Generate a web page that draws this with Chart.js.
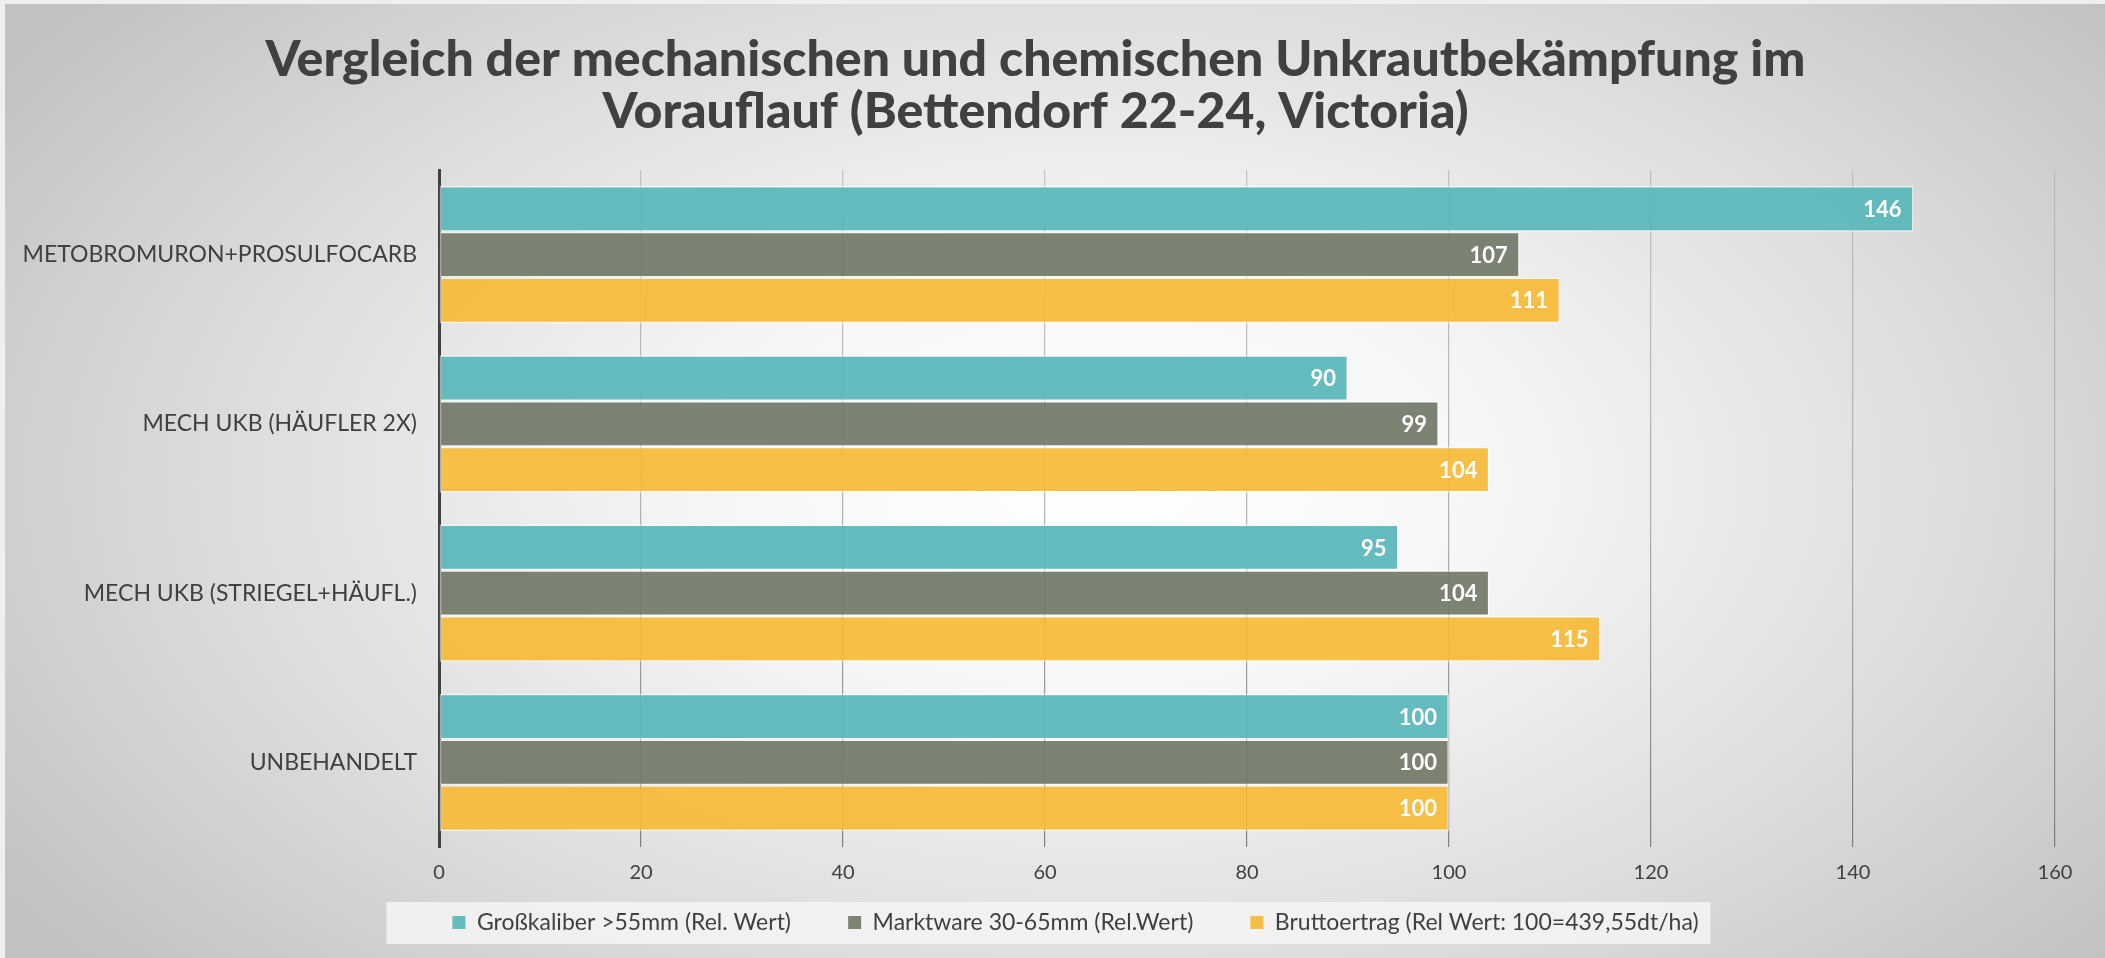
<!DOCTYPE html>
<html>
<head>
<meta charset="utf-8">
<script src="https://cdn.jsdelivr.net/npm/chart.js@4.4.1/dist/chart.umd.min.js"></script>
<style>
  html, body { margin: 0; padding: 0; }
  body {
    width: 2105px; height: 958px; overflow: hidden;
    background: #efefed;
  }
  #wrap {
    position: absolute; left: 5px; top: 4px; width: 2100px; height: 954px;
    background: radial-gradient(ellipse 62% 78% at 52% 50%, #ffffff 0%, #f6f6f6 30%, #dadada 70%, #c2c2c2 100%);
  }
  #c { position: absolute; left: 0; top: 0; }
</style>
</head>
<body>
<div id="wrap"></div>
<canvas id="c" width="2105" height="958"></canvas>
<script>
const titleLines = ["Vergleich der mechanischen und chemischen Unkrautbekämpfung im", "Vorauflauf (Bettendorf 22-24, Victoria)"];
const categories = ["METOBROMURON+PROSULFOCARB", "MECH UKB (HÄUFLER 2X)", "MECH UKB (STRIEGEL+HÄUFL.)", "UNBEHANDELT"];
const seriesNames = ["Großkaliber >55mm (Rel. Wert)", "Marktware 30-65mm (Rel.Wert)", "Bruttoertrag (Rel Wert: 100=439,55dt/ha)"];
const grosskaliber = [146, 90, 95, 100];
const marktware = [107, 99, 104, 100];
const bruttoertrag = [111, 104, 115, 100];
const xTicks = [0, 20, 40, 60, 80, 100, 120, 140, 160];
const colors = ["rgba(92,184,187,0.95)", "rgba(118,124,106,0.95)", "rgba(248,186,56,0.93)"];

const FONT = "Lato, 'Open Sans', sans-serif";
const LEGEND_GAP = "        ";
const LEGEND_SHIFT = 40;

const valueLabels = {
  id: 'valueLabels',
  afterDatasetsDraw(chart) {
    const ctx = chart.ctx;
    ctx.save();
    ctx.font = "bold 22px " + FONT;
    ctx.fillStyle = "#ffffff";
    ctx.textAlign = "right";
    ctx.textBaseline = "middle";
    chart.data.datasets.forEach((ds, i) => {
      chart.getDatasetMeta(i).data.forEach((bar, j) => {
        ctx.fillText(String(ds.data[j]), bar.x - 12, bar.y + 1);
      });
    });
    ctx.restore();
  }
};

const legendBox = {
  id: 'legendBox',
  afterLayout(chart) {
    const lg = chart.legend;
    if (lg) { lg.left += LEGEND_SHIFT; lg.right += LEGEND_SHIFT; }
  },
  beforeDraw(chart) {
    const lg = chart.legend;
    if (!lg || !lg.legendHitBoxes || !lg.legendHitBoxes.length) return;
    const boxes = lg.legendHitBoxes;
    const l = Math.min(...boxes.map(b => b.left)) - 66;
    const r = Math.max(...boxes.map(b => b.left + b.width)) + 12;
    const ctx = chart.ctx;
    ctx.save();
    ctx.fillStyle = "rgba(245,245,245,0.85)";
    ctx.fillRect(l, 902, r - l, 42);
    ctx.restore();
  }
};

function gridGradient(context) {
  const chart = context.chart;
  const a = chart.chartArea;
  if (!a) return "#bbbbbb";
  const g = chart.ctx.createLinearGradient(0, a.top, 0, a.bottom);
  g.addColorStop(0, "rgba(175,175,175,0.7)");
  g.addColorStop(0.5, "rgba(160,160,160,0.8)");
  g.addColorStop(1, "rgba(120,120,120,0.95)");
  return g;
}

new Chart(document.getElementById('c'), {
  type: 'bar',
  data: {
    labels: categories,
    datasets: [
      { label: seriesNames[0], data: grosskaliber, backgroundColor: colors[0] },
      { label: seriesNames[1], data: marktware, backgroundColor: colors[1] },
      { label: seriesNames[2], data: bruttoertrag, backgroundColor: colors[2] }
    ].map(d => Object.assign(d, {
      borderColor: "rgba(255,255,255,0.55)", borderWidth: 1.5, borderSkipped: false,
      categoryPercentage: 0.81, barPercentage: 1.0
    }))
  },
  options: {
    indexAxis: 'y',
    responsive: false,
    animation: false,
    devicePixelRatio: 1,
    layout: { padding: { left: 16, right: 50, top: 0, bottom: 14 } },
    scales: {
      x: {
        min: 0, max: 160,
        afterBuildTicks(scale) { scale.ticks = xTicks.map(v => ({ value: v })); },
        grid: { color: gridGradient, lineWidth: 1.2, drawTicks: false },
        border: { display: false },
        ticks: { color: "#404040", font: { family: FONT, size: 20 }, padding: 14 },
        afterFit(scale) { scale.height = 54; }
      },
      y: {
        grid: { display: false, drawTicks: false },
        border: { display: true, color: "#404040", width: 3 },
        ticks: { color: "#404040", font: { family: FONT, size: 23 }, padding: 22 },
        afterFit(scale) { scale.width = 423; }
      }
    },
    plugins: {
      title: {
        display: true,
        text: titleLines,
        color: "#404040",
        font: { family: FONT, size: 50, weight: '900', lineHeight: 1.04 },
        padding: { top: 34, bottom: 32 }
      },
      legend: {
        position: 'bottom',
        labels: {
          color: "#404040",
          font: { family: FONT, size: 23 },
          boxWidth: 13, boxHeight: 13,
          padding: 10,
          generateLabels(chart) {
            const items = Chart.defaults.plugins.legend.labels.generateLabels(chart);
            items.forEach((it, i) => {
              it.lineWidth = 0;
              if (i < items.length - 1) it.text = it.text + LEGEND_GAP;
            });
            return items;
          }
        }
      },
      tooltip: { enabled: false }
    }
  },
  plugins: [legendBox, valueLabels]
});
</script>
</body>
</html>
